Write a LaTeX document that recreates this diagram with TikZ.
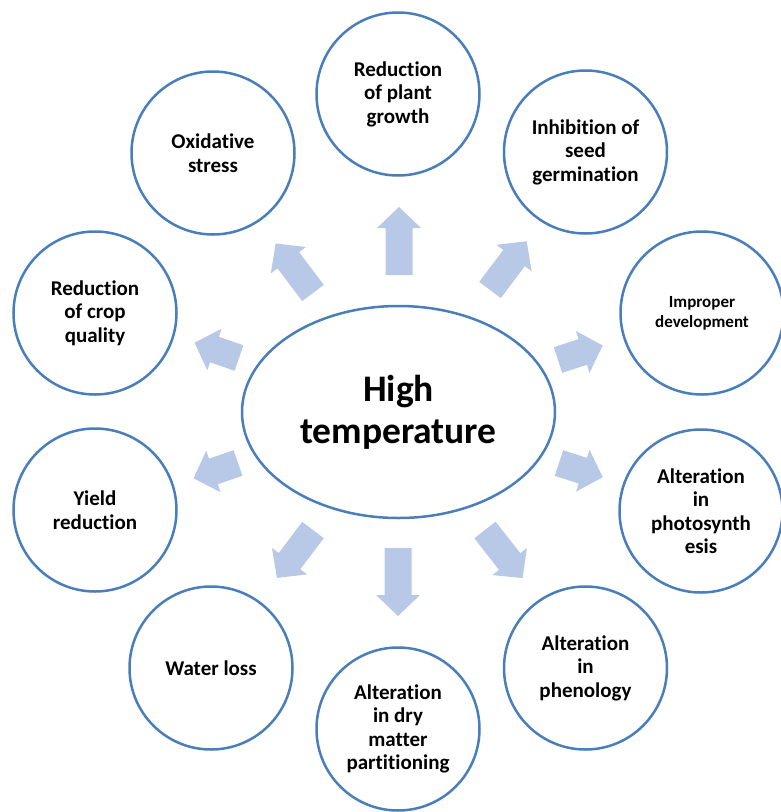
\documentclass[tikz,border=0pt]{standalone}
\usepackage{fontspec}
\setmainfont{Carlito}[Ligatures={NoCommon}]
\usetikzlibrary{shapes.geometric}
\definecolor{ringblue}{RGB}{74,126,187}
\definecolor{arrowfill}{RGB}{183,201,231}
\tikzset{
  bubble/.style={circle, draw=ringblue, line width=2.5pt, fill=white, minimum size=163pt, inner sep=0pt, align=center, font=\fontsize{21}{23.5}\selectfont\bfseries},
  hub/.style={ellipse, draw=ringblue, line width=2.5pt, fill=white, minimum width=313pt, minimum height=212pt, inner sep=0pt, align=center, font=\fontsize{37.5}{42}\selectfont\bfseries},
  pics/barrow/.style={code={
    \fill[arrowfill] (0,-13.5) -- ({#1-21},-13.5) -- ({#1-21},-22) -- (#1,0) -- ({#1-21},22) -- ({#1-21},13.5) -- (0,13.5) -- cycle;
  }}
}
\begin{document}
\begin{tikzpicture}[x=1pt,y=-1pt]
\useasboundingbox (0,0) rectangle (780,812);
\node[hub] (hub) at (398.5,412) {High\\temperature};
\node[bubble] (c1) at (398,94) {Reduction\\of plant\\growth};
\node[bubble] (c2) at (585.5,152) {Inhibition of\\seed\\germination};
\node[bubble, font=\fontsize{17}{20}\selectfont\bfseries] (c3) at (702,313) {Improper\\development};
\node[bubble] (c4) at (701,511) {Alteration\\in\\photosynth\\esis};
\node[bubble] (c5) at (585.5,668) {Alteration\\in\\phenology};
\node[bubble] (c6) at (398,729) {Alteration\\in dry\\matter\\partitioning};
\node[bubble] (c7) at (211,668) {Water loss};
\node[bubble] (c8) at (95,510) {Yield\\reduction};
\node[bubble] (c9) at (95,313) {Reduction\\of crop\\quality};
\node[bubble] (c10) at (213,153) {Oxidative\\stress};
\pic[rotate=90] (a1) at (399,275) {barrow=68};
\pic[rotate=53] (a2) at (490,290) {barrow=61};
\pic[rotate=18] (a3) at (558,360) {barrow=47};
\pic[rotate=-18] (a4) at (559,463) {barrow=46};
\pic[rotate=-52] (a5) at (485,530) {barrow=61};
\pic[rotate=-90] (a6) at (398,548) {barrow=68};
\pic[rotate=233] (a7) at (313,530) {barrow=60};
\pic[rotate=199] (a8) at (238,463) {barrow=47};
\pic[rotate=161] (a9) at (239,358) {barrow=47};
\pic[rotate=127] (a10) at (313,293) {barrow=62};
\end{tikzpicture}
\end{document}
